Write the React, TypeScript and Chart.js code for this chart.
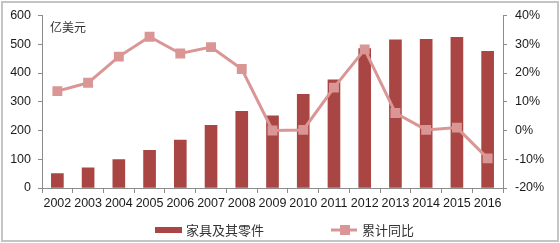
import React, { useEffect, useRef } from "react";
import { Chart, registerables } from "chart.js";

Chart.register(...registerables);

const years = ["2002","2003","2004","2005","2006","2007","2008","2009","2010","2011","2012","2013","2014","2015","2016"];
const furnitureValues = [50, 70, 99, 131, 167, 218, 267, 251, 326, 376, 485, 515, 517, 524, 475];
const yoyGrowth = [13.7, 16.6, 25.7, 32.6, 26.8, 29.0, 21.4, 0.0, 0.2, 14.9, 28.2, 6.1, 0.2, 1.0, -9.7];
const leftTicks = [0, 100, 200, 300, 400, 500, 600];
const rightTicks = [-20, -10, 0, 10, 20, 30, 40];
const barLabel = "家具及其零件";
const lineLabel = "累计同比";
const unitLabel = "亿美元";

const BAR_COLOR = "#A94643";
const LINE_COLOR = "#D99694";
const AXIS_COLOR = "#8C8C8C";
const TEXT_COLOR = "#1a1a1a";
const FONT = "'Liberation Sans', Arial, sans-serif";
const CJK = "'Noto Sans CJK SC', sans-serif";

const overlayPlugin = {
  id: "overlay",
  afterDraw(chart: any) {
    const ctx = chart.ctx;
    const area = chart.chartArea;
    ctx.save();
    // unit label
    ctx.fillStyle = "#333";
    ctx.font = "12px " + CJK;
    ctx.textBaseline = "middle";
    ctx.textAlign = "left";
    ctx.fillText(unitLabel, area.left + 8, area.top + 12);
    // legend
    const ly = 230;
    ctx.fillStyle = BAR_COLOR;
    ctx.fillRect(155, ly - 3, 27, 6);
    ctx.fillStyle = "#333";
    ctx.font = "13px " + CJK;
    ctx.fillText(barLabel, 186, ly);
    ctx.strokeStyle = LINE_COLOR;
    ctx.lineWidth = 3;
    ctx.beginPath();
    ctx.moveTo(331, ly);
    ctx.lineTo(357, ly);
    ctx.stroke();
    ctx.fillStyle = LINE_COLOR;
    ctx.fillRect(340, ly - 5, 10, 10);
    ctx.fillStyle = "#333";
    ctx.fillText(lineLabel, 362, ly);
    ctx.restore();
  },
};

export default function App() {
  const ref = useRef<HTMLCanvasElement>(null);
  useEffect(() => {
    document.body.style.margin = "0";
    const chart = new Chart(ref.current as HTMLCanvasElement, {
      type: "bar",
      data: {
        labels: years,
        datasets: [
          {
            type: "line",
            label: lineLabel,
            data: yoyGrowth,
            yAxisID: "y1",
            borderColor: LINE_COLOR,
            backgroundColor: LINE_COLOR,
            borderWidth: 3,
            pointStyle: "rect",
            pointRadius: 7,
            pointBorderWidth: 0,
            pointBackgroundColor: LINE_COLOR,
            tension: 0,
            order: 0,
          } as any,
          {
            type: "bar",
            label: barLabel,
            data: furnitureValues,
            yAxisID: "y",
            backgroundColor: BAR_COLOR,
            barThickness: 12,
            order: 1,
          },
        ],
      },
      options: {
        animation: false,
        responsive: false,
        layout: { padding: { top: 11, left: 0, right: 0, bottom: 0 } },
        plugins: { legend: { display: false }, tooltip: { enabled: false } },
        scales: {
          x: {
            offset: true,
            grid: { offset: true, drawOnChartArea: false, drawTicks: true, tickLength: 5, color: AXIS_COLOR },
            border: { display: true, color: AXIS_COLOR, width: 1 },
            ticks: { color: TEXT_COLOR, font: { family: FONT, size: 12.5 }, padding: 3, maxRotation: 0, autoSkip: false },
            afterFit(scale: any) { scale.height = 55; },
          },
          y: {
            position: "left",
            min: 0,
            max: 600,
            afterBuildTicks(scale: any) { scale.ticks = leftTicks.map((v) => ({ value: v })); },
            grid: { drawOnChartArea: false, drawTicks: true, tickLength: 4, color: AXIS_COLOR },
            border: { display: true, color: AXIS_COLOR, width: 1 },
            ticks: { color: TEXT_COLOR, font: { family: FONT, size: 12.5 }, padding: 7 },
            afterFit(scale: any) { scale.width = 42; },
          },
          y1: {
            position: "right",
            min: -20,
            max: 40,
            afterBuildTicks(scale: any) { scale.ticks = rightTicks.map((v) => ({ value: v })); },
            grid: { drawOnChartArea: false, drawTicks: true, tickLength: 4, color: AXIS_COLOR },
            border: { display: true, color: AXIS_COLOR, width: 1 },
            ticks: {
              color: TEXT_COLOR,
              font: { family: FONT, size: 12.5 },
              padding: 8,
              callback: (v: any) => v + "%",
            },
            afterFit(scale: any) { scale.width = 57; },
          },
        },
      },
      plugins: [overlayPlugin],
    });
    return () => chart.destroy();
  }, []);
  return (
    <div style={{ position: "relative", width: 560, height: 243 }}>
      <canvas ref={ref} width={560} height={243} style={{ display: "block" }} />
      <div
        style={{
          position: "absolute",
          left: 1,
          top: 1,
          width: 558,
          height: 241,
          boxSizing: "border-box",
          border: "2px solid #C4C4C4",
          pointerEvents: "none",
        }}
      />
    </div>
  );
}
